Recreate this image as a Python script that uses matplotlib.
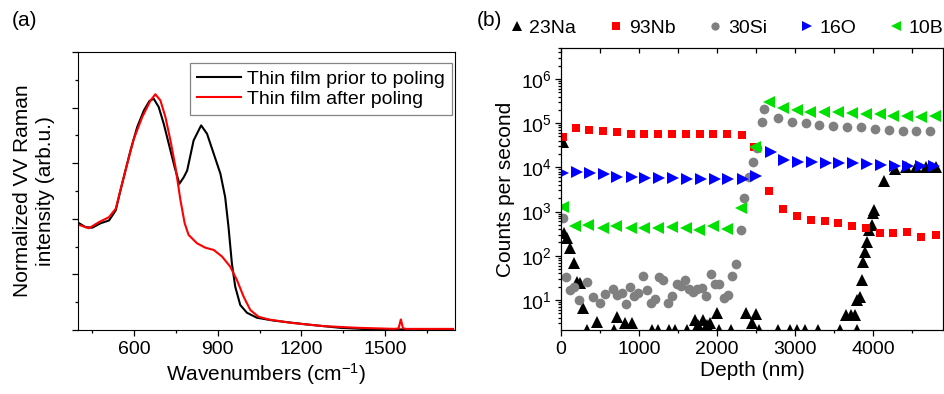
import matplotlib
matplotlib.use("Agg")
import matplotlib.pyplot as plt
from matplotlib.ticker import MultipleLocator, NullFormatter, LogLocator

plt.rcParams['font.family'] = ['Liberation Sans', 'DejaVu Sans']
plt.rcParams['mathtext.default'] = 'regular'

# (a) Raman spectra
prior_wn = [404, 427, 451, 481, 511, 535, 552, 570, 588, 612, 636, 656, 671,
            689, 707, 725, 746, 763, 779, 791, 814, 841, 862, 886, 910, 927,
            939, 951, 963, 981, 1005, 1041, 1100, 1219, 1338, 1457, 1743]
prior_int = [1.92, 1.85, 1.84, 1.92, 1.97, 2.15, 2.51, 2.87, 3.23, 3.65, 3.95,
             4.12, 4.16, 4.01, 3.71, 3.35, 2.93, 2.63, 2.75, 2.87, 3.41, 3.68,
             3.53, 3.17, 2.81, 2.39, 1.85, 1.20, 0.78, 0.45, 0.31, 0.22, 0.17,
             0.10, 0.04, 0.01, 0.01]

after_wn = [404, 439, 475, 511, 535, 570, 600, 630, 660, 677, 695, 713, 731,
            749, 767, 782, 796, 826, 856, 886, 916, 945, 969, 993, 1017, 1046,
            1082, 1160, 1279, 1398, 1535, 1548, 1556, 1564, 1575, 1743]
after_int = [1.89, 1.83, 1.94, 2.03, 2.18, 2.87, 3.44, 3.83, 4.13, 4.24, 4.13,
             3.83, 3.41, 2.93, 2.33, 1.92, 1.71, 1.56, 1.48, 1.44, 1.32, 1.14,
             0.90, 0.60, 0.36, 0.24, 0.19, 0.13, 0.07, 0.04, 0.02, 0.03, 0.19,
             0.03, 0.02, 0.02]

# (b) SIMS depth profiles
na_depth = [30, 38, 81, 115, 167, 209, 244, 278, 338, 457,
            684, 714, 820, 906, 1162, 1248, 1385, 1462, 1620, 1718,
            1761, 1816, 1868, 1910, 1996, 2030, 2175, 2368, 2445, 2500,
            2543, 2786, 2936, 3030, 3128, 3299, 3585, 3662, 3726, 3769,
            3799, 3791, 3833, 3855, 3876, 3897, 3919, 3953, 3983, 4004,
            4013, 4141, 4282, 4419, 4560, 4688, 4816]
na_cps = [38000, 325, 247, 147, 68, 26, 24, 6.5, 2.1, 3.2,
          2.1, 4.2, 3.0, 3.0, 2.1, 2.1, 2.1, 2.1, 2.1, 3.5,
          2.7, 3.5, 2.7, 3.0, 5.0, 2.1, 2.1, 5.0, 3.0, 4.8,
          2.1, 2.1, 2.1, 2.1, 2.1, 2.1, 2.1, 4.6, 4.6, 4.6,
          2.1, 10, 11.8, 28, 74, 123, 208, 380, 500, 910,
          1070, 5000, 9000, 10200, 10200, 10300, 10300]

nb_depth = [21, 188, 363, 543, 714, 897, 1068, 1248, 1423, 1603,
            1778, 1953, 2132, 2316, 2479, 2671, 2850, 3021, 3201, 3385,
            3556, 3735, 3910, 4090, 4261, 4444, 4624, 4808]
nb_cps = [49000, 76000, 69000, 66000, 62000, 57000, 57000, 57000, 57000, 56000,
          57000, 57000, 57000, 54000, 29500, 2950, 1120, 810, 645, 610,
          560, 480, 435, 330, 325, 350, 270, 295]

si_depth = [21, 64, 115, 171, 231, 329, 414, 500, 564, 662,
            722, 778, 833, 885, 936, 991, 1047, 1099, 1154, 1205,
            1256, 1312, 1368, 1427, 1483, 1534, 1590, 1641, 1696, 1747,
            1803, 1859, 1919, 1974, 2030, 2090, 2145, 2188, 2244, 2303,
            2350, 2414, 2466, 2509, 2573, 2603, 2786, 2957, 3141, 3312,
            3491, 3671, 3846, 4026, 4205, 4381, 4560, 4739]
si_cps = [710, 33, 17, 20, 10, 26, 11.9, 8.4, 14, 18,
          13, 14.7, 8.1, 20, 12.3, 14.7, 35, 17, 8.4, 10.4,
          33, 28, 8.4, 12.3, 22.6, 20.8, 28, 18, 15.4, 17.4,
          19, 12.3, 38, 23, 23, 11, 13, 35, 65, 380,
          2000, 5900, 13500, 28000, 107000, 214000, 129000, 107000, 100000, 91000,
          88000, 83000, 80000, 73000, 70000, 68000, 68000, 68000]

o_depth = [30, 201, 372, 551, 722, 906, 1077, 1261, 1432, 1611,
           1791, 1974, 2145, 2329, 2500, 2688, 2863, 3043, 3214, 3397,
           3568, 3748, 3927, 4103, 4282, 4453, 4624, 4790]
o_cps = [7600, 7700, 7300, 6900, 6200, 5900, 5600, 5800, 5600, 5400,
         5400, 5400, 5400, 5400, 6500, 22500, 14700, 13500, 13000, 12700,
         12700, 12300, 11800, 11200, 10900, 10900, 10900, 10900]

b_depth = [21, 179, 350, 534, 705, 893, 1068, 1239, 1419, 1598,
           1774, 1953, 2132, 2308, 2491, 2662, 2842, 3021, 3192, 3376,
           3556, 3735, 3910, 4090, 4261, 4444, 4624, 4795]
b_cps = [1290, 470, 510, 420, 470, 430, 420, 420, 450, 420,
         380, 460, 400, 1180, 29500, 295000, 215000, 200000, 183000, 177000,
         177000, 170000, 162000, 157000, 145000, 145000, 140000, 145000]

fig = plt.figure(figsize=(9.44, 3.94), dpi=100)
W, H = 944, 394

# ---------- panel (a)
ax1 = fig.add_axes([78 / W, 1 - 330 / H, 377 / W, 278 / H])
ax1.plot(prior_wn, prior_int, color='black', lw=1.5, label='Thin film prior to poling')
ax1.plot(after_wn, after_int, color='#ff0000', lw=1.5, label='Thin film after poling')
ax1.set_xlim(400, 1750)
ax1.set_ylim(0, 5)
ax1.xaxis.set_major_locator(MultipleLocator(300))
ax1.xaxis.set_minor_locator(MultipleLocator(150))
ax1.yaxis.set_major_locator(MultipleLocator(1))
ax1.yaxis.set_minor_locator(MultipleLocator(0.5))
ax1.yaxis.set_major_formatter(NullFormatter())
ax1.tick_params(which='major', direction='out', length=4.5, width=0.9, labelsize=14)
ax1.tick_params(which='minor', direction='out', length=2.5, width=0.9)
ax1.set_xlabel('Wavenumbers (cm$^{-1}$)', fontsize=15, labelpad=2)
ax1.set_ylabel('Normalized VV Raman\nintensity (arb.u.)', fontsize=15, linespacing=1.3)
ax1.yaxis.set_label_coords(-0.06, 0.5)
leg1 = ax1.legend(loc='upper right', bbox_to_anchor=(0.992, 0.96), borderaxespad=0,
                  fontsize=14, frameon=True, fancybox=False, handlelength=2.3,
                  handletextpad=0.3, labelspacing=0.15, borderpad=0.35)
leg1.get_frame().set_edgecolor('0.4')
leg1.get_frame().set_linewidth(0.9)
fig.text(12 / W, 1 - 20 / H, '(a)', fontsize=15, va='center', ha='left')

# ---------- panel (b)
ax2 = fig.add_axes([561 / W, 1 - 330 / H, 382 / W, 282 / H])
ms = dict(ls='none', markeredgewidth=0)
ax2.plot(na_depth, na_cps, marker='^', color='black', markersize=8, label='23Na', **ms)
ax2.plot(nb_depth, nb_cps, marker='s', color='#ff0000', markersize=6.4, label='93Nb', **ms)
ax2.plot(si_depth, si_cps, marker='o', color='#808080', markersize=7, label='30Si', **ms)
ax2.plot(o_depth, o_cps, marker='>', color='#0000ff', markersize=8, label='16O', **ms)
ax2.plot(b_depth, b_cps, marker='<', color='#00e000', markersize=8, label='10B', **ms)
ax2.set_yscale('log')
ax2.set_xlim(0, 4900)
ax2.set_ylim(2.1, 5e6)
ax2.xaxis.set_major_locator(MultipleLocator(1000))
ax2.xaxis.set_minor_locator(MultipleLocator(500))
ax2.yaxis.set_major_locator(LogLocator(base=10, subs=(1.0,), numticks=10))
ax2.yaxis.set_minor_locator(LogLocator(base=10, subs=range(2, 10), numticks=10))
ax2.yaxis.set_minor_formatter(NullFormatter())
ax2.tick_params(which='major', direction='out', length=4.5, width=0.9, labelsize=14)
ax2.tick_params(which='minor', direction='out', length=2.5, width=0.9)
ax2.tick_params(axis='y', which='major', pad=2)

# inward ticks on the top edge
top = ax2.twiny()
top.set_xlim(ax2.get_xlim())
top.xaxis.set_major_locator(MultipleLocator(1000))
top.xaxis.set_minor_locator(MultipleLocator(500))
top.tick_params(which='both', direction='in', length=3.5, width=0.9,
                labeltop=False, labelbottom=False, bottom=False)

ax2.set_xlabel('Depth (nm)', fontsize=15, labelpad=2)
ax2.set_ylabel('Counts per second', fontsize=15, labelpad=4)

handles, labels = ax2.get_legend_handles_labels()
ax2.legend(handles, labels, loc='center left', bbox_to_anchor=(511 / W, 1 - 28 / H),
           bbox_transform=fig.transFigure, ncol=5, frameon=False, fontsize=14,
           handlelength=0.6, handletextpad=0.35, columnspacing=1.75,
           borderpad=0, borderaxespad=0, markerscale=0.85)
fig.text(477 / W, 1 - 20 / H, '(b)', fontsize=15, va='center', ha='left')

fig.savefig('out.png', dpi=100)
